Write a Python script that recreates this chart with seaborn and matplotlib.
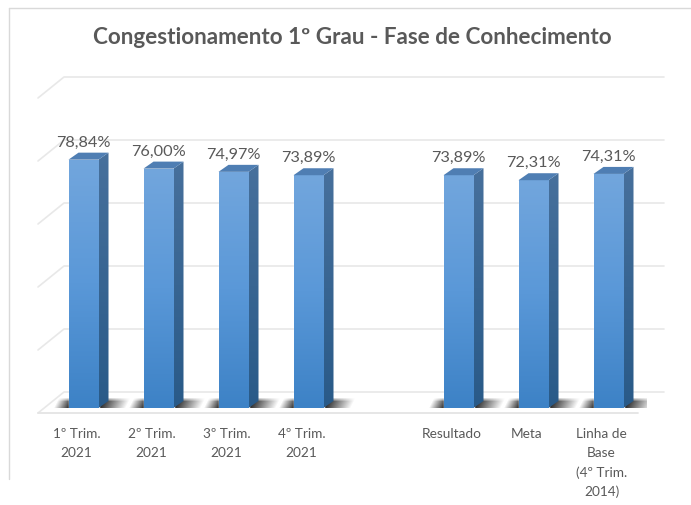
import numpy as np
import pandas as pd
import matplotlib
matplotlib.use("Agg")
import matplotlib.pyplot as plt
import matplotlib.transforms as mtrans
from matplotlib.colors import LinearSegmentedColormap
from matplotlib.patches import Polygon
import seaborn as sns

categorias = ["1º Trim.\n2021", "2º Trim.\n2021", "3º Trim.\n2021", "4º Trim.\n2021", " ",
              "Resultado", "Meta", "Linha de\nBase\n(4º Trim.\n2014)"]
valores = [78.84, 76.00, 74.97, 73.89, 0, 73.89, 72.31, 74.31]
rotulos = ["78,84%", "76,00%", "74,97%", "73,89%", "", "73,89%", "72,31%", "74,31%"]
grades = [0, 20, 40, 60, 80, 100]

sns.set_style("white")
plt.rcParams["font.family"] = ["Lato", "DejaVu Sans"]

W, H = 691, 506
fig = plt.figure(figsize=(W/100, H/100), dpi=100)
ax = fig.add_axes([46/W, 1-409/H, 600/W, 315/H])
df = pd.DataFrame({"cat": categorias, "val": valores})
sns.barplot(x="cat", y="val", data=df, ax=ax, width=0.4, color="#4a8cd0", order=categorias)
ax.set_xlim(-0.5, 7.5)
ax.set_ylim(0, 100)
ax.patch.set_alpha(0)
sns.despine(ax=ax, left=True, bottom=True)
ax.set_xlabel("")
ax.set_ylabel("")
ax.set_yticks([])
ax.tick_params(axis="x", length=0, pad=14, labelsize=9.8, labelcolor="#595959")
recuo = mtrans.Affine2D().translate(-7, 0)
for t in ax.get_xticklabels():
    t.set_linespacing(1.66)
    t.set_verticalalignment("top")
    t.set_transform(t.get_transform() + recuo)


def desloca(dx, dy):
    # deslocamento em pixels da imagem
    return ax.transData + mtrans.Affine2D().translate(dx, -dy)


# moldura do grafico
fig.add_artist(plt.Line2D([9/W, 9/W], [1-480/H, 1-9/H], color="#d9d9d9", lw=1))
fig.add_artist(plt.Line2D([9/W, 1], [1-9/H, 1-9/H], color="#d9d9d9", lw=1))

# paredes: linhas de grade em perspectiva
frente = desloca(-8, 5)
fundo = desloca(18, -16)
for g in grades:
    p0 = frente.transform((-0.5, g))
    p1 = fundo.transform((-0.5, g))
    p2 = fundo.transform((7.5, g))
    ax.plot([p0[0], p1[0], p2[0]], [p0[1], p1[1], p2[1]], transform=mtrans.IdentityTransform(),
            color="#e8e8e8", lw=1.2, zorder=0, clip_on=False)
p0 = frente.transform((-0.5, 0))
p1 = frente.transform((7.5, 0))
ax.plot([p0[0], p1[0]], [p0[1], p1[1]], transform=mtrans.IdentityTransform(),
        color="#e4e4e4", lw=1.3, zorder=0, clip_on=False)

cm_frente = LinearSegmentedColormap.from_list("f", ["#3d82c6", "#5a98d8", "#72a6dd"])
cm_lado = LinearSegmentedColormap.from_list("l", ["#295a88", "#47709c"])
grad = np.linspace(0, 1, 128).reshape(-1, 1)
prof_x, prof_y = 10, 7


def sombra(largura):
    # sombra borrada: escura junto da barra, some para os lados
    alt = 14
    yy, xx = np.mgrid[0:alt, 0:largura + 50]
    xr = xx - (alt - 1 - yy) * 0.5
    esq = np.clip(xr / 15, 0, 1)
    dir = np.clip((largura + 42 - xr) / 26, 0, 1)
    vert = np.clip(yy / 4, 0, 1) * np.clip((alt - 1 - yy) / 3, 0, 1)
    img = np.zeros((alt, largura + 50, 4))
    img[..., :3] = 0.13
    img[..., 3] = 0.95 * esq * dir * vert
    return img


for bar, rot in zip(list(ax.patches), rotulos):
    h = bar.get_height()
    if h == 0:
        bar.set_visible(False)
        continue
    x0 = bar.get_x()
    x1 = x0 + bar.get_width()
    a = ax.transData.transform((x0, 0))
    b = ax.transData.transform((x1, 0))
    c = ax.transData.transform((x1, h))
    d = ax.transData.transform((x0, h))
    # sombra no chao
    img = sombra(int(round(b[0] - a[0])))
    ax.imshow(img, aspect="auto", origin="upper",
              extent=(a[0] - 17, a[0] - 17 + img.shape[1], a[1] - 3, a[1] - 3 + img.shape[0]),
              transform=mtrans.IdentityTransform(), zorder=1, interpolation="bilinear")
    # frente com gradiente
    im = ax.imshow(grad, cmap=cm_frente, aspect="auto", origin="lower", extent=(x0, x1, 0, h), zorder=3)
    bar.set_zorder(2)
    im.set_clip_path(bar)
    # lado
    lado = [b, c, c + [prof_x, prof_y], b + [prof_x, prof_y]]
    pl = Polygon(lado, closed=True, transform=mtrans.IdentityTransform(), fc="none", ec="none")
    ax.add_patch(pl)
    im2 = ax.imshow(grad, cmap=cm_lado, aspect="auto", origin="lower",
                    extent=(b[0], b[0] + prof_x, b[1], c[1] + prof_y),
                    transform=mtrans.IdentityTransform(), zorder=3)
    im2.set_clip_path(pl)
    # topo
    topo = [d, c, c + [prof_x, prof_y], d + [prof_x, prof_y]]
    ax.add_patch(Polygon(topo, closed=True, transform=mtrans.IdentityTransform(),
                         fc="#4f7eb3", ec="none", zorder=3))
    ax.annotate(rot, ((x0 + x1) / 2, h), xytext=(0, 11), textcoords="offset pixels",
                ha="center", va="bottom", fontsize=11.7, color="#595959", zorder=5)

ax.set_xlim(-0.5, 7.5)
ax.set_ylim(0, 100)

fig.text(352/W, 1-38/H, "Congestionamento 1º Grau - Fase de Conhecimento", ha="center", va="center",
         fontsize=16.2, fontweight="bold", color="#595959")

fig.savefig("out.png", dpi=100)
